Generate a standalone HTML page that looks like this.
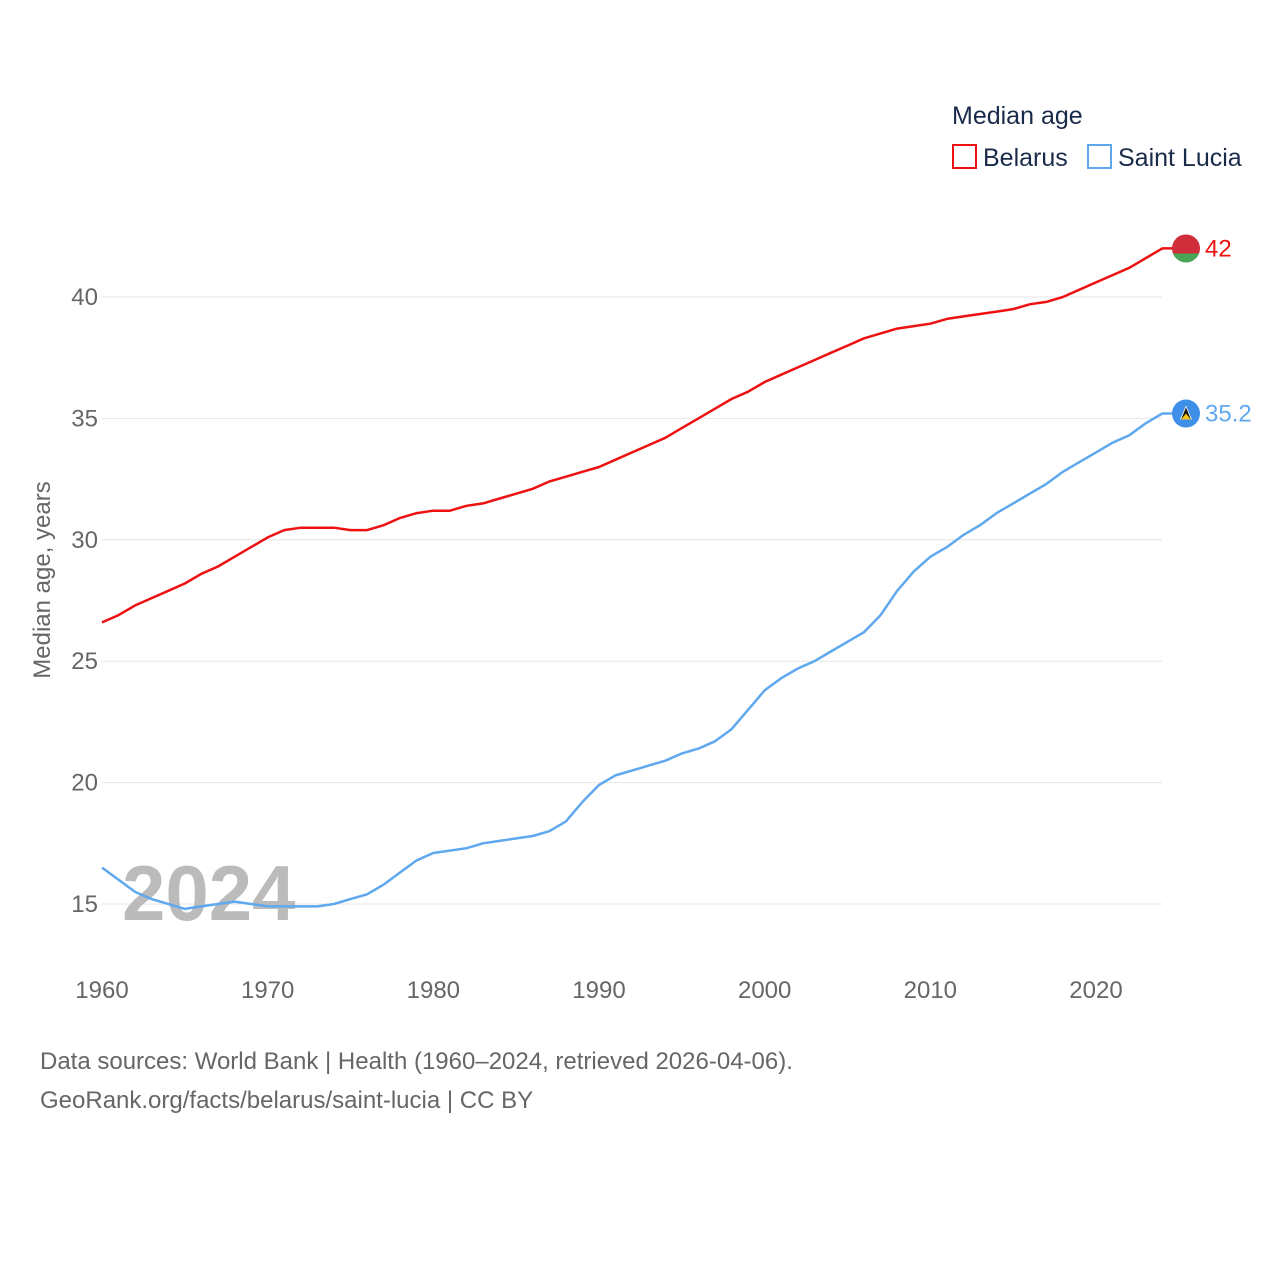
<!DOCTYPE html>
<html><head><meta charset="utf-8"><style>
html,body{margin:0;padding:0;background:#fff;}
svg text{font-family:"Liberation Sans",sans-serif;}
</style></head><body>
<svg id="chart" width="1280" height="1280" viewBox="0 0 1280 1280" xmlns="http://www.w3.org/2000/svg">
<g id="grid"></g>
<g id="yticks"></g>
<g id="xticks"></g>
<text x="50" y="580" transform="rotate(-90 50 580)" text-anchor="middle" font-size="24" fill="#666">Median age, years</text>
<text x="122" y="920" font-size="78" font-weight="bold" fill="#bbb">2024</text>
<g id="series"></g>
<g>
<text x="952" y="124" font-size="25" fill="#1a2b4a">Median age</text>
<g><rect x="953" y="145" width="23" height="23" fill="none" stroke="#ee1111" stroke-width="2"/><text x="983" y="166" font-size="25" fill="#1a2b4a">Belarus</text></g>
<g><rect x="1088" y="145" width="23" height="23" fill="none" stroke="#5fa8ee" stroke-width="2"/><text x="1118" y="166" font-size="25" fill="#1a2b4a">Saint Lucia</text></g>
</g>
<text x="40" y="1069" font-size="24" fill="#666">Data sources: World Bank | Health (1960–2024, retrieved 2026-04-06).</text>
<text x="40" y="1108" font-size="24" fill="#666">GeoRank.org/facts/belarus/saint-lucia | CC BY</text>
</svg>
<script>
const years = [];
for (let y = 1960; y <= 2024; y++) years.push(y);
const belarus = [26.6,26.9,27.3,27.6,27.9,28.2,28.6,28.9,29.3,29.7,30.1,30.4,30.5,30.5,30.5,30.4,30.4,30.6,30.9,31.1,31.2,31.2,31.4,31.5,31.7,31.9,32.1,32.4,32.6,32.8,33.0,33.3,33.6,33.9,34.2,34.6,35.0,35.4,35.8,36.1,36.5,36.8,37.1,37.4,37.7,38.0,38.3,38.5,38.7,38.8,38.9,39.1,39.2,39.3,39.4,39.5,39.7,39.8,40.0,40.3,40.6,40.9,41.2,41.6,42.0];
const saintLucia = [16.5,16.0,15.5,15.2,15.0,14.8,14.9,15.0,15.1,15.0,14.9,14.9,14.9,14.9,15.0,15.2,15.4,15.8,16.3,16.8,17.1,17.2,17.3,17.5,17.6,17.7,17.8,18.0,18.4,19.2,19.9,20.3,20.5,20.7,20.9,21.2,21.4,21.7,22.2,23.0,23.8,24.3,24.7,25.0,25.4,25.8,26.2,26.9,27.9,28.7,29.3,29.7,30.2,30.6,31.1,31.5,31.9,32.3,32.8,33.2,33.6,34.0,34.3,34.8,35.2];
const yTickValues = [15,20,25,30,35,40];
const xTickValues = [1960,1970,1980,1990,2000,2010,2020];

const NS = "http://www.w3.org/2000/svg";
const xs = v => 102 + (v - 1960) * (994 / 60);
const ys = v => 904 - (v - 15) * (607 / 25);
function mk(tag, attrs, parent) { const e = document.createElementNS(NS, tag); for (const k in attrs) e.setAttribute(k, attrs[k]); parent.appendChild(e); return e; }

const grid = document.getElementById('grid'), yt = document.getElementById('yticks'), xt = document.getElementById('xticks'), ser = document.getElementById('series');
yTickValues.forEach(v => {
  const l = mk('line', {x1: 102, x2: 1162, y1: ys(v), y2: ys(v), stroke: '#e6e6e6', 'stroke-width': 1}, grid);
  
  
  const t = mk('text', {x: 98, y: ys(v) + 8, 'text-anchor': 'end', 'font-size': 24, fill: '#666'}, yt);
  t.textContent = v;
  
  
});
xTickValues.forEach(v => {
  const t = mk('text', {x: xs(v), y: 998, 'text-anchor': 'middle', 'font-size': 24, fill: '#666'}, xt);
  t.textContent = v;
  
  
});
function drawLine(vals, color, name) {
  const d = vals.map((v, i) => (i ? 'L' : 'M') + xs(years[i]).toFixed(1) + ',' + ys(v).toFixed(1)).join(' ') + ' L' + (xs(years[years.length-1]) + 10).toFixed(1) + ',' + ys(vals[vals.length-1]).toFixed(1);
  const p = mk('path', {d: d, fill: 'none', stroke: color, 'stroke-width': 2.5, 'stroke-linejoin': 'round'}, ser);
  
  
}
drawLine(belarus, '#ee1111', 'belarus');
drawLine(saintLucia, '#5fa8ee', 'saint-lucia');

const bY = ys(belarus[belarus.length-1]), sY = ys(saintLucia[saintLucia.length-1]);
const bf = mk('g', {}, ser);


// red top part (circle segment above y=bY+5) and green bottom part
const r = 14, cx = 1186, h = 5;
const dx = Math.sqrt(r*r - h*h);
mk('path', {d: `M${cx-dx},${bY+h} A${r},${r} 0 1 1 ${cx+dx},${bY+h} Z`, fill: '#cf2e3a'}, bf);
mk('path', {d: `M${cx-dx},${bY+h} A${r},${r} 0 0 0 ${cx+dx},${bY+h} Z`, fill: '#4aa657'}, bf);
const bl = mk('text', {x: 1205, y: bY + 8, 'font-size': 24, fill: '#ee1111'}, ser);
bl.textContent = belarus[belarus.length-1];



const sf = mk('g', {}, ser);


mk('circle', {cx: 1186, cy: sY, r: 14, fill: '#3d8fe8'}, sf);
mk('polygon', {points: `1186,${sY-8} 1192,${sY+6} 1180,${sY+6}`, fill: '#fff'}, sf);
mk('polygon', {points: `1186,${sY-6} 1191,${sY+6} 1181,${sY+6}`, fill: '#111'}, sf);
mk('polygon', {points: `1186,${sY} 1191,${sY+6} 1181,${sY+6}`, fill: '#f5c518'}, sf);
const sl = mk('text', {x: 1205, y: sY + 8, 'font-size': 24, fill: '#5fa8ee'}, ser);
sl.textContent = saintLucia[saintLucia.length-1];


</script>
</body></html>
